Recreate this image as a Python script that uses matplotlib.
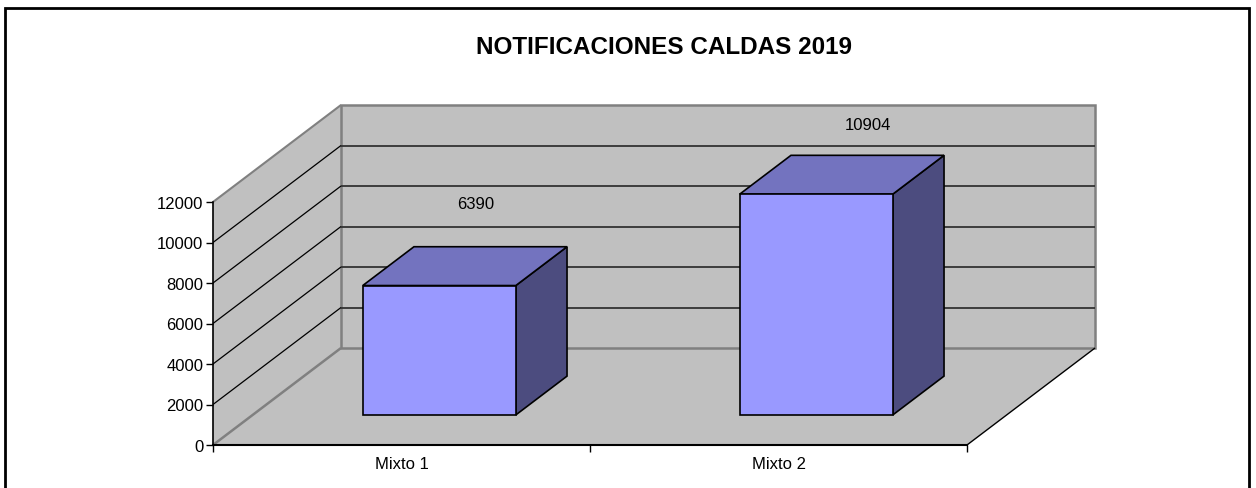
import matplotlib
matplotlib.use("Agg")
import matplotlib.pyplot as plt
from matplotlib.patches import Polygon, Rectangle

plt.rcParams['font.family'] = ['Liberation Sans', 'DejaVu Sans']

# ---- data ----
categories = ['Mixto 1', 'Mixto 2']
values = [6390, 10904]
yticks = [0, 2000, 4000, 6000, 8000, 10000, 12000]
title = 'NOTIFICACIONES CALDAS 2019'

# ---- styling / geometry ----
W, H = 1256, 489
fig = plt.figure(figsize=(W / 100, H / 100), dpi=100)
ax_l, ax_r, ax_t, ax_b = 213, 967, 203, 446
ax = fig.add_axes([ax_l / W, 1 - ax_b / H, (ax_r - ax_l) / W, (ax_b - ax_t) / H])
ymax = yticks[-1]
ncat = len(categories)
ax.set_xlim(0, ncat)
ax.set_ylim(0, ymax)

px_x = (ax_r - ax_l) / ncat          # pixels per category
px_y = (ax_b - ax_t) / ymax          # pixels per unit
DX = 128 / px_x                      # full-depth shift in data x
DY = 97 / px_y                       # full-depth shift in data y


def proj(x, y, d):
    return (x + d * DX, y + d * DY)


WALL = '#C0C0C0'
EDGE_GRAY = '#808080'

# floor
floor = Polygon([proj(0, 0, 0), proj(ncat, 0, 0), proj(ncat, 0, 1), proj(0, 0, 1)],
                closed=True, facecolor=WALL, edgecolor='none', clip_on=False, zorder=1)
ax.add_patch(floor)
# side wall
side = Polygon([proj(0, 0, 0), proj(0, 0, 1), proj(0, ymax, 1), proj(0, ymax, 0)],
               closed=True, facecolor=WALL, edgecolor='none', clip_on=False, zorder=1)
ax.add_patch(side)
# back wall
back = Polygon([proj(0, 0, 1), proj(ncat, 0, 1), proj(ncat, ymax, 1), proj(0, ymax, 1)],
               closed=True, facecolor=WALL, edgecolor=EDGE_GRAY, lw=1.8, clip_on=False, zorder=1.5)
ax.add_patch(back)


def line(p, q, **kw):
    ax.plot([p[0], q[0]], [p[1], q[1]], clip_on=False, solid_capstyle='butt', **kw)


# gridlines
for v in yticks[1:-1]:
    line(proj(0, v, 0), proj(0, v, 1), color='black', lw=0.9, zorder=2)
    line(proj(0, v, 1), proj(ncat, v, 1), color='#333333', lw=1.3, zorder=2)
# edges
line(proj(0, ymax, 0), proj(0, ymax, 1), color=EDGE_GRAY, lw=1.5, zorder=2)
line(proj(0, 0, 0), proj(0, 0, 1), color=EDGE_GRAY, lw=1.8, zorder=2)
line(proj(ncat, 0, 0), proj(ncat, 0, 1), color='black', lw=1.0, zorder=2)

# bars
d0, d1 = 0.31, 0.71
bx0, bx1 = 0.292, 0.698
FRONT = '#9999FF'
TOP = '#7373BF'
SIDE = '#4C4C7F'
for i, v in enumerate(values):
    xl, xr = i + bx0, i + bx1
    front = [proj(xl, 0, d0), proj(xr, 0, d0), proj(xr, v, d0), proj(xl, v, d0)]
    top = [proj(xl, v, d0), proj(xr, v, d0), proj(xr, v, d1), proj(xl, v, d1)]
    sidef = [proj(xr, 0, d0), proj(xr, 0, d1), proj(xr, v, d1), proj(xr, v, d0)]
    for pts, col in ((sidef, SIDE), (top, TOP), (front, FRONT)):
        ax.add_patch(Polygon(pts, closed=True, facecolor=col, edgecolor='black',
                             lw=1.2, joinstyle='miter', clip_on=False, zorder=3))

# value labels (offsets in pixels above the bar's front top edge)
label_off = [(35 / px_x, 82 * (1 / px_y)), (50 / px_x, 70 * (1 / px_y))]
for i, v in enumerate(values):
    ox, oy = label_off[i]
    x, y = proj(i + 0.5 + ox, v + oy, d0)
    ax.text(x, y, str(v), ha='center', va='center', fontsize=12, zorder=4, clip_on=False)

# axes styling
for s in ('top', 'right'):
    ax.spines[s].set_visible(False)
ax.spines['left'].set_linewidth(1.2)
ax.spines['bottom'].set_linewidth(1.5)
ax.spines['left'].set_zorder(5)
ax.spines['bottom'].set_zorder(5)
ax.patch.set_visible(False)
ax.set_yticks(yticks)
ax.set_yticklabels([str(t) for t in yticks])
ax.tick_params(axis='y', direction='out', length=5, width=1, pad=2, labelsize=12)
ax.set_xticks(range(ncat + 1))
ax.set_xticklabels([''] * (ncat + 1))
ax.set_xticks([i + 0.5 for i in range(ncat)], minor=True)
ax.set_xticklabels(categories, minor=True)
ax.tick_params(axis='x', which='major', direction='out', length=5, width=1)
ax.tick_params(axis='x', which='minor', length=0, pad=8, labelsize=12)

# title
fig.text(664 / W, 1 - 48 / H, title, ha='center', va='center', fontsize=17.5,
         fontweight='bold')

# chart border
fig.patches.append(Rectangle((5 / W, -0.05), (1249 - 5) / W, (0.05 + 1 - 9 / H),
                             transform=fig.transFigure, fill=False, edgecolor='black',
                             lw=2, zorder=10))

fig.savefig('out.png', dpi=100)
